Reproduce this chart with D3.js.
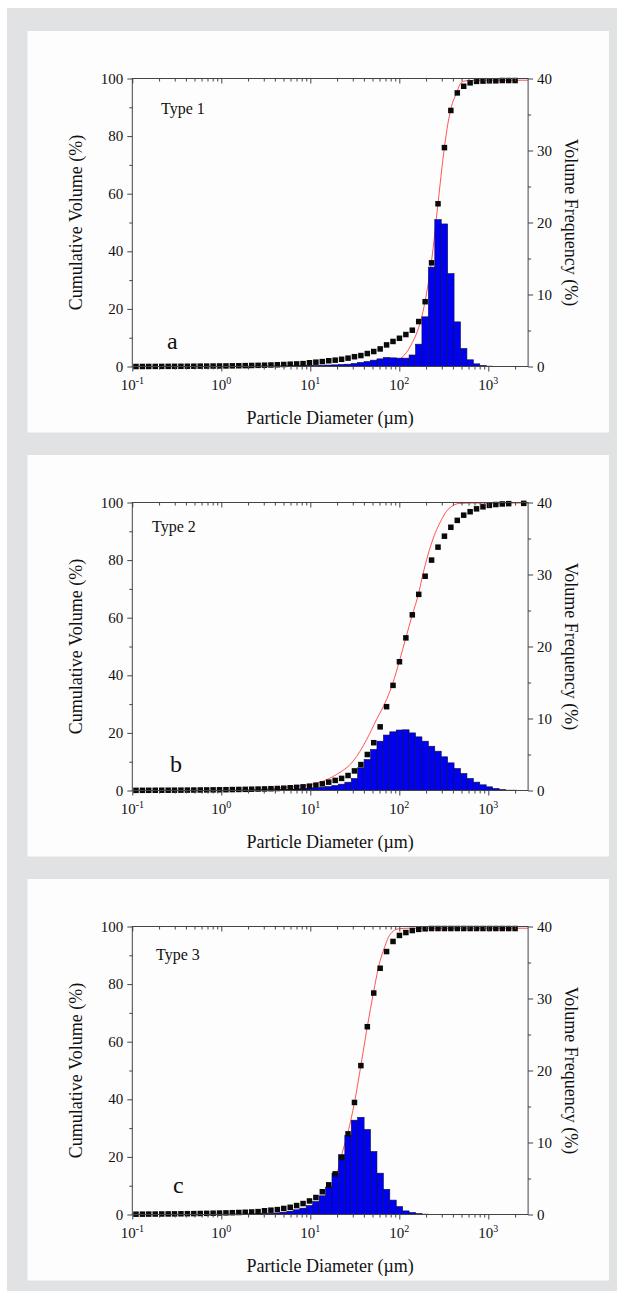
<!DOCTYPE html>
<html>
<head>
<meta charset="utf-8">
<script src="https://cdn.jsdelivr.net/npm/d3@7"></script>
<style>
  body { margin: 0; background: #ffffff; }
  svg { display: block; }
  text { font-family: "Liberation Serif", "Times New Roman", serif; fill: #111; }
</style>
</head>
<body>
<svg id="fig" width="624" height="1299"></svg>
<script>
// Particle size classes (µm), geometric progression of the analyser
const sizes = [
  0.110, 0.130, 0.153, 0.181, 0.214, 0.253, 0.298, 0.352, 0.416, 0.491,
  0.580, 0.685, 0.809, 0.955, 1.128, 1.331, 1.573, 1.857, 2.193, 2.590,
  3.058, 3.612, 4.265, 5.035, 5.947, 7.022, 8.291, 9.790, 11.56, 13.65,
  16.12, 19.04, 22.48, 26.55, 31.35, 37.02, 43.71, 51.61, 60.95, 71.97,
  84.98, 100.4, 118.5, 140.0, 165.3, 195.2, 230.5, 272.2, 321.4, 379.5,
  448.2, 529.2, 624.9, 737.9, 871.4, 1029, 1215, 1435, 1694, 2000
];
// Type 2 ends with a coarser last class
const sizesType2 = sizes.slice(0, 59).concat([2500]);

// Cumulative volume (%)
const cumulativeType1 = [
  0.00, 0.01, 0.02, 0.03, 0.04, 0.05, 0.06, 0.07, 0.08, 0.10,
  0.12, 0.14, 0.16, 0.18, 0.20, 0.23, 0.26, 0.30, 0.35, 0.40,
  0.45, 0.52, 0.60, 0.70, 0.80, 0.90, 1.0, 1.3, 1.5, 1.7,
  2.0, 2.2, 2.5, 2.9, 3.4, 3.8, 4.5, 5.2, 6.1, 7.5,
  8.7, 9.8, 11.1, 12.6, 15.6, 22.5, 36.0, 56.5, 76.0, 88.9,
  95.0, 97.3, 98.5, 99.0, 99.1, 99.2, 99.2, 99.3, 99.3, 99.3
];
const cumulativeType2 = [
  0.05, 0.06, 0.07, 0.08, 0.09, 0.10, 0.11, 0.12, 0.14, 0.16,
  0.18, 0.20, 0.22, 0.25, 0.28, 0.32, 0.36, 0.40, 0.45, 0.50,
  0.55, 0.62, 0.70, 0.80, 0.95, 1.1, 1.27, 1.5, 1.85, 2.3,
  2.9, 3.5, 4.2, 5.2, 6.8, 9.0, 12.5, 16.6, 22.1, 29.1,
  36.5, 44.7, 53.0, 61.0, 68.1, 74.4, 80.0, 84.5, 88.3, 91.4,
  93.8, 95.6, 96.8, 97.8, 98.5, 99.0, 99.3, 99.5, 99.6, 99.7
];
const cumulativeType3 = [
  0.10, 0.12, 0.14, 0.16, 0.18, 0.20, 0.22, 0.25, 0.28, 0.31,
  0.35, 0.40, 0.45, 0.50, 0.56, 0.62, 0.70, 0.78, 0.88, 1.0,
  1.3, 1.5, 1.7, 2.1, 2.5, 3.1, 3.8, 4.7, 5.9, 7.9,
  10.3, 14.1, 19.8, 28.0, 38.9, 51.7, 65.2, 76.9, 85.5, 91.3,
  94.8, 96.9, 97.9, 98.6, 99.0, 99.2, 99.3, 99.3, 99.3, 99.3,
  99.3, 99.3, 99.3, 99.3, 99.3, 99.3, 99.3, 99.3, 99.3, 99.3
];

// Volume frequency (%) per size class
const frequencyType1 = [
  0.01, 0.01, 0.01, 0.01, 0.01, 0.01, 0.01, 0.01, 0.02, 0.02,
  0.02, 0.02, 0.02, 0.02, 0.03, 0.03, 0.03, 0.04, 0.04, 0.05,
  0.05, 0.06, 0.07, 0.08, 0.09, 0.10, 0.11, 0.13, 0.15, 0.17,
  0.20, 0.23, 0.28, 0.32, 0.42, 0.56, 0.69, 0.88, 1.06, 1.25,
  1.20, 1.16, 1.16, 1.60, 3.10, 6.90, 13.8, 20.4, 19.8, 12.9,
  6.2, 2.5, 0.93, 0.37, 0.15, 0.05, 0.02, 0.01, 0, 0
];
const frequencyType2 = [
  0.01, 0.01, 0.01, 0.01, 0.01, 0.01, 0.01, 0.02, 0.02, 0.02,
  0.02, 0.02, 0.03, 0.03, 0.03, 0.04, 0.04, 0.05, 0.06, 0.07,
  0.08, 0.09, 0.11, 0.13, 0.16, 0.20, 0.24, 0.30, 0.37, 0.46,
  0.55, 0.69, 0.88, 1.15, 1.67, 3.15, 4.3, 5.7, 6.85, 7.7,
  8.15, 8.4, 8.43, 8.0, 7.45, 6.85, 6.15, 5.46, 4.68, 3.84,
  3.06, 2.36, 1.67, 1.16, 0.79, 0.51, 0.28, 0.14, 0.05, 0
];
const frequencyType3 = [
  0.01, 0.01, 0.01, 0.01, 0.01, 0.02, 0.02, 0.02, 0.02, 0.03,
  0.03, 0.03, 0.04, 0.04, 0.05, 0.05, 0.06, 0.07, 0.08, 0.10,
  0.12, 0.15, 0.20, 0.30, 0.46, 0.65, 0.88, 1.25, 1.8, 2.6,
  3.8, 5.74, 8.3, 11.0, 13.1, 13.5, 11.8, 8.75, 5.74, 3.5,
  2.0, 1.1, 0.5, 0.28, 0.14, 0.05, 0.02, 0.01, 0, 0,
  0, 0, 0, 0, 0, 0, 0, 0, 0, 0
];

// Fitted cumulative curves: [diameter µm, cumulative %]
const fitType1 = [
  [0.1, 0], [40, 0], [60, 0.4], [80, 1.1], [100, 2.5], [120, 4.8], [140, 8.3],
  [160, 12.3], [180, 17.6], [200, 24.5], [230, 36.5], [272, 56.5], [300, 68.5],
  [321, 76.0], [350, 84.0], [380, 89.5], [442, 95.2], [481, 98.0], [523, 99.0],
  [596, 99.3], [741, 99.4], [2800, 99.4]
];
const fitType2 = [
  [0.1, 0], [1.8, 0], [2.5, 0.3], [3.5, 0.6], [5, 1.0], [8.3, 1.7], [12.9, 2.9],
  [19.8, 5.6], [30.3, 10.2], [43, 17.7], [55.6, 24.7], [72, 31.6], [85, 37.5],
  [100.4, 45.0], [118.5, 53.0], [140, 61.0], [165, 68.5], [178.6, 73.3],
  [203, 80.2], [231, 86.0], [263, 90.6], [299, 94.1], [340, 97.0], [404, 99.0],
  [481, 99.7], [600, 99.8], [2800, 99.8]
];
const fitType3 = [
  [0.1, 0], [3, 0], [4.6, 0.6], [7, 1.4], [9.1, 2.3], [12.9, 4.6], [16.6, 8.7],
  [19.8, 13.9], [23.1, 22.0], [26.5, 28.5], [31.4, 39.0], [37, 51.7],
  [43.7, 65.2], [51.6, 77.5], [58, 85.5], [64, 90.3], [69, 93.2], [75, 96.1],
  [85.6, 98.4], [97.6, 99.2], [130, 99.4], [2800, 99.4]
];

// Axis ticks
const xMajorTicks = [0.1, 1, 10, 100, 1000];
const xExponents = ["-1", "0", "1", "2", "3"];
const xMinorTicks = [];
[0.1, 1, 10, 100, 1000].forEach(dec => {
  for (let m = 2; m <= 9; m++) { if (m * dec <= 2800) xMinorTicks.push(m * dec); }
});
const leftTicks = [0, 20, 40, 60, 80, 100];
const leftMinor = [10, 30, 50, 70, 90];
const rightTicks = [0, 10, 20, 30, 40];
const rightMinor = [5, 15, 25, 35];

const panelLabels = ["Type 1", "Type 2", "Type 3"];
const panelLetters = ["a", "b", "c"];

const panels = [
  { sizes: sizes, cum: cumulativeType1, freq: frequencyType1, fit: fitType1,
    top: 31, typePos: [161, 35], letterPos: [167, -18] },
  { sizes: sizesType2, cum: cumulativeType2, freq: frequencyType2, fit: fitType2,
    top: 455, typePos: [152, 29], letterPos: [170, -19] },
  { sizes: sizes, cum: cumulativeType3, freq: frequencyType3, fit: fitType3,
    top: 879, typePos: [156, 33.5], letterPos: [173, -22] }
];

const svg = d3.select("#fig");

// page background
svg.append("rect").attr("x", 7).attr("y", 8).attr("width", 610).attr("height", 1283)
  .attr("fill", "#e1e2e3");

const plotLeft = 132.3, plotRight = 528.1, plotH = 288;
const axisColor = "#444";

panels.forEach((p, i) => {
  const g = svg.append("g");
  g.append("rect").attr("x", 27.5).attr("y", p.top).attr("width", 581.5).attr("height", 401.5)
    .attr("fill", "#fdfdfd");

  const top = p.top + 47.5, bottom = top + plotH;
  const x = d3.scaleLog().domain([0.1, 2800]).range([plotLeft, plotRight]);
  const yL = d3.scaleLinear().domain([0, 100]).range([bottom, top]);
  const yR = d3.scaleLinear().domain([0, 40]).range([bottom, top]);

  const clipId = "clip" + i;
  g.append("clipPath").attr("id", clipId).append("rect")
    .attr("x", plotLeft).attr("y", top).attr("width", plotRight - plotLeft).attr("height", plotH);

  // fitted cumulative curve
  const line = d3.line().x(d => x(d[0])).y(d => yL(d[1])).curve(d3.curveMonotoneX);
  g.append("path").datum(p.fit).attr("d", line).attr("fill", "none")
    .attr("stroke", "#ff2a2a").attr("stroke-width", 0.8).attr("clip-path", `url(#${clipId})`);

  // volume frequency histogram
  const s = p.sizes;
  const bins = p.freq.map((v, k) => {
    const lo = k > 0 ? Math.sqrt(s[k - 1] * s[k]) : s[0] * s[0] / Math.sqrt(s[0] * s[1]);
    const hi = k < s.length - 1 ? Math.sqrt(s[k] * s[k + 1]) : s[k] * s[k] / Math.sqrt(s[k - 1] * s[k]);
    return { lo, hi, v };
  }).filter(b => b.v > 0);
  g.append("g").attr("clip-path", `url(#${clipId})`).selectAll("rect").data(bins).join("rect")
    .attr("x", b => x(b.lo)).attr("width", b => x(b.hi) - x(b.lo))
    .attr("y", b => yR(b.v)).attr("height", b => bottom - yR(b.v))
    .attr("fill", "#0000f2").attr("stroke", "#10103a").attr("stroke-width", 0.6);

  // cumulative points
  const ms = 5.5;
  g.append("g").selectAll("rect").data(p.cum.map((c, k) => [s[k], c])).join("rect")
    .attr("x", d => x(d[0]) - ms / 2).attr("y", d => yL(d[1]) - ms / 2)
    .attr("width", ms).attr("height", ms).attr("fill", "#0a0a0a");

  // axes
  const styleAxis = sel => {
    sel.select(".domain").remove();
    sel.selectAll("line").attr("stroke", axisColor).attr("stroke-width", 1);
    sel.selectAll("text").remove();
  };
  g.append("g").attr("transform", `translate(0,${bottom})`)
    .call(d3.axisBottom(x).tickValues(xMajorTicks).tickSize(5)).call(styleAxis);
  g.append("g").attr("transform", `translate(0,${bottom})`)
    .call(d3.axisBottom(x).tickValues(xMinorTicks).tickSize(3)).call(styleAxis);
  // top axis mirrors the ticks pointing into the plot
  g.append("g").attr("transform", `translate(0,${top})`)
    .call(d3.axisBottom(x).tickValues(xMajorTicks).tickSize(5)).call(styleAxis);
  g.append("g").attr("transform", `translate(0,${top})`)
    .call(d3.axisBottom(x).tickValues(xMinorTicks).tickSize(3)).call(styleAxis);
  g.append("g").attr("transform", `translate(${plotLeft},0)`)
    .call(d3.axisLeft(yL).tickValues(leftTicks).tickSize(5)).call(styleAxis);
  g.append("g").attr("transform", `translate(${plotLeft},0)`)
    .call(d3.axisLeft(yL).tickValues(leftMinor).tickSize(3)).call(styleAxis);
  g.append("g").attr("transform", `translate(${plotRight},0)`)
    .call(d3.axisRight(yR).tickValues(rightTicks).tickSize(5)).call(styleAxis);
  g.append("g").attr("transform", `translate(${plotRight},0)`)
    .call(d3.axisRight(yR).tickValues(rightMinor).tickSize(3)).call(styleAxis);

  // frame
  g.append("rect").attr("x", plotLeft).attr("y", top)
    .attr("width", plotRight - plotLeft).attr("height", plotH)
    .attr("fill", "none").attr("stroke", axisColor).attr("stroke-width", 1);

  // tick labels
  g.selectAll(".xl").data(xMajorTicks).join("text").attr("class", "xl")
    .attr("x", d => x(d)).attr("y", bottom + 23.5).attr("text-anchor", "middle")
    .attr("font-size", 15)
    .each(function (d, j) {
      const t = d3.select(this);
      t.append("tspan").text("10");
      t.append("tspan").attr("dy", -6.5).attr("font-size", 10).text(xExponents[j]);
    });
  g.selectAll(".yl").data(leftTicks).join("text").attr("class", "yl")
    .attr("x", plotLeft - 9).attr("y", d => yL(d) + 5).attr("text-anchor", "end")
    .attr("font-size", 15).text(d => d);
  g.selectAll(".yr").data(rightTicks).join("text").attr("class", "yr")
    .attr("x", plotRight + 9).attr("y", d => yR(d) + 5).attr("text-anchor", "start")
    .attr("font-size", 15).text(d => d);

  // axis titles
  g.append("text").attr("x", (plotLeft + plotRight) / 2).attr("y", bottom + 57)
    .attr("text-anchor", "middle").attr("font-size", 18).text("Particle Diameter (µm)");
  g.append("text").attr("transform", `translate(82,${(top + bottom) / 2}) rotate(-90)`)
    .attr("text-anchor", "middle").attr("font-size", 18).text("Cumulative Volume (%)");
  g.append("text").attr("transform", `translate(565,${(top + bottom) / 2}) rotate(90)`)
    .attr("text-anchor", "middle").attr("font-size", 18).text("Volume Frequency (%)");

  // panel captions
  g.append("text").attr("x", p.typePos[0]).attr("y", top + p.typePos[1])
    .attr("font-size", 16).text(panelLabels[i]);
  g.append("text").attr("x", p.letterPos[0]).attr("y", bottom + p.letterPos[1])
    .attr("font-size", 24).text(panelLetters[i]);
});
</script>
</body>
</html>
